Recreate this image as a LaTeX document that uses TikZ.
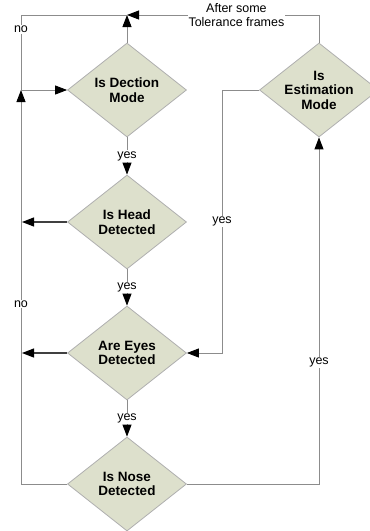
\documentclass[tikz,border=0pt]{standalone}
\usepackage{fontspec}
\setmainfont{Liberation Sans}
\usetikzlibrary{shapes.geometric,arrows.meta}
\definecolor{cdiamond}{RGB}{221,224,204}
\definecolor{cedge}{RGB}{175,175,175}
\definecolor{cline}{RGB}{140,140,140}

\tikzset{
  decision/.style={diamond,draw=cedge,fill=cdiamond,line width=0.8,minimum width=119,minimum height=94,
    inner sep=0,aspect=1.25,align=center,font=\bfseries\fontsize{13.5}{14.5}\selectfont},
  flow/.style={draw=cline,line width=0.9},
  darkflow/.style={draw=black!75,line width=1.2},
  tip/.style={-{Triangle[length=12,width=9,black]}},
  lbl/.style={fill=white,inner sep=1,font=\fontsize{12.5}{14}\selectfont,align=center}
}

\begin{document}
\begin{tikzpicture}[x=1pt,y=-1pt]

\useasboundingbox (0,0) rectangle (370,531);
\clip (0,0) rectangle (370,531);

% decisions
\node[decision] (dection) at (127,90) {Is Dection\\Mode};
\node[decision] (head) at (127,222) {Is Head\\Detected};
\node[decision] (eyes) at (127,353) {Are Eyes\\Detected};
\node[decision] (nose) at (127,484) {Is Nose\\Detected};
\node[decision] (estim) at (319,90) {Is\\Estimation\\Mode};

% corners
\coordinate (top) at (127,15);
\coordinate (topleft) at (21,15);
\coordinate (topright) at (319,15);
\coordinate (join) at (21,90);
\coordinate (botleft) at (21,484);
\coordinate (botright) at (319,484);
\coordinate (midright) at (222,90);
\coordinate (eyesright) at (222,353);
\coordinate (headout) at (22,222);
\coordinate (eyesout) at (22,353);

% top loop
\draw[flow,tip] (dection.north) -- (top);
\draw[flow,tip] (estim.north) -- (topright) -- (top) node[lbl,pos=0.43] {After some\\Tolerance frames};
\draw[flow] (top) -- (topleft) -- (join) node[lbl,pos=0.19] {no};

% left side
\draw[flow,tip] (nose.west) -- (botleft) -- (join) node[lbl,pos=0.457] {no};
\draw[flow,tip] (join) -- (dection.west);
\draw[darkflow,tip] (head.west) -- (headout);
\draw[darkflow,tip] (eyes.west) -- (eyesout);

% yes chain
\draw[flow,tip] (dection.south) -- (head.north) node[lbl,midway] {yes};
\draw[flow,tip] (head.south) -- (eyes.north) node[lbl,midway] {yes};
\draw[flow,tip] (eyes.south) -- (nose.north) node[lbl,midway] {yes};

% right side
\draw[flow,tip] (estim.west) -- (midright) -- (eyesright) node[lbl,pos=0.5] {yes} -- (eyes.east);
\draw[flow,tip] (nose.east) -- (botright) -- (estim.south) node[lbl,pos=0.35] {yes};

\end{tikzpicture}
\end{document}
